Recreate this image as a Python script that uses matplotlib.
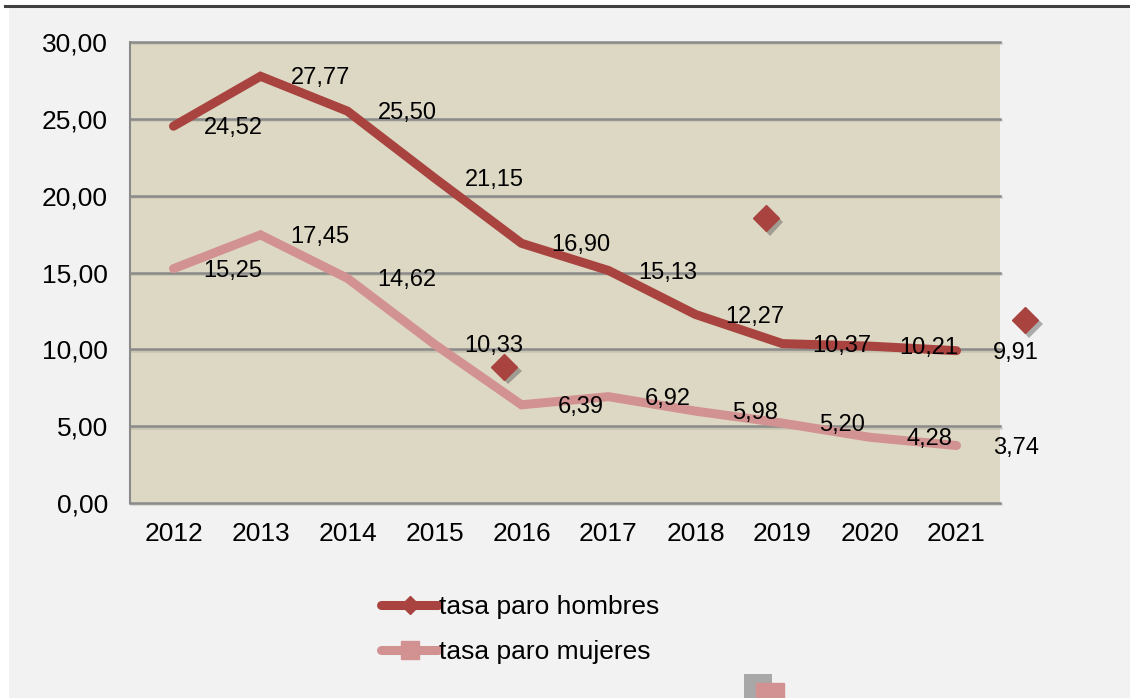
import matplotlib
matplotlib.use('Agg')
import matplotlib.pyplot as plt
import matplotlib.patheffects as pe
from matplotlib.lines import Line2D
import numpy as np

# data
years = ['2012', '2013', '2014', '2015', '2016', '2017', '2018', '2019', '2020', '2021']
tasa_hombres = [24.52, 27.77, 25.50, 21.15, 16.90, 15.13, 12.27, 10.37, 10.21, 9.91]
tasa_mujeres = [15.25, 17.45, 14.62, 10.33, 6.39, 6.92, 5.98, 5.20, 4.28, 3.74]
yticks = [0, 5, 10, 15, 20, 25, 30]

# loose markers left over in the original picture (category index, value)
stray_diamonds_x = [3.80, 6.81, 9.79]
stray_diamonds_y = [8.85, 18.54, 11.90]
stray_square_x = [6.86]
stray_square_y = [-12.6]

col_h = '#a8433f'
col_m = '#d39292'
bg = '#f2f2f2'
plot_bg = '#ddd8c3'
grid_col = '#8a8a8a'

plt.rcParams['font.family'] = ['Liberation Sans', 'DejaVu Sans']

fig = plt.figure(figsize=(11.3, 6.98), dpi=100)
fig.patch.set_facecolor('white')

# grey chart area and the dark rule along the top
fig.add_artist(plt.Rectangle((9 / 1130, 0), 1, 1 - 7 / 698, transform=fig.transFigure,
                             facecolor=bg, edgecolor='none', zorder=0))
fig.add_artist(Line2D([5 / 1130, 1], [1 - 5.5 / 698, 1 - 5.5 / 698], transform=fig.transFigure,
                      color='#404040', lw=2.2, zorder=1))

ax = fig.add_axes([130 / 1130, 1 - 503 / 698, 870 / 1130, 461 / 698])
ax.set_facecolor(plot_bg)

x = np.arange(len(years))
ax.set_xlim(-0.5, len(years) - 0.5)
ax.set_ylim(0, 30)

shadow = [pe.SimpleLineShadow(offset=(1, -1), shadow_color='#b0b0a0', alpha=0.5), pe.Normal()]
for yv in yticks:
    ax.axhline(yv, color=grid_col, lw=1.8, zorder=1, path_effects=shadow, clip_on=False)

for s in ['top', 'right', 'bottom']:
    ax.spines[s].set_visible(False)
ax.spines['left'].set_color(grid_col)
ax.spines['left'].set_linewidth(1.5)

ax.plot(x, tasa_hombres, color=col_h, lw=6.5, solid_capstyle='round', solid_joinstyle='miter', zorder=3)
ax.plot(x, tasa_mujeres, color=col_m, lw=6.5, solid_capstyle='round', solid_joinstyle='miter', zorder=3)

# data labels, shifted right of each point
for xi, v in zip(x, tasa_hombres):
    ax.annotate(f'{v:.2f}'.replace('.', ','), (xi, v), xytext=(43, -1.5), textcoords='offset points',
                ha='center', va='center', fontsize=17, zorder=5, annotation_clip=False)
for xi, v in zip(x, tasa_mujeres):
    ax.annotate(f'{v:.2f}'.replace('.', ','), (xi, v), xytext=(43, -1.5), textcoords='offset points',
                ha='center', va='center', fontsize=17, zorder=5, annotation_clip=False)

mk_shadow = [pe.SimplePatchShadow(offset=(3, -3), shadow_rgbFace='#555555', alpha=0.45), pe.Normal()]
ax.plot(stray_diamonds_x, stray_diamonds_y, ls='none', marker='D', ms=13.5, color=col_h,
        mec=col_h, clip_on=False, zorder=6, path_effects=mk_shadow)
sq_shadow = [pe.SimplePatchShadow(offset=(-9, 6), shadow_rgbFace='#777777', alpha=0.6), pe.Normal()]
ax.plot(stray_square_x, stray_square_y, ls='none', marker='s', ms=20, color=col_m,
        mec=col_m, clip_on=False, zorder=6, path_effects=sq_shadow)

ax.set_xticks(x)
ax.set_xticklabels(years, fontsize=19)
ax.set_yticks(yticks)
ax.set_yticklabels([f'{v:.2f}'.replace('.', ',') for v in yticks], fontsize=19)
ax.tick_params(axis='x', length=0, pad=14)
ax.tick_params(axis='y', length=0, pad=16)

handles = [Line2D([], [], color=col_h, lw=6.5, marker='D', ms=9, solid_capstyle='round'),
           Line2D([], [], color=col_m, lw=6.5, marker='s', ms=13, solid_capstyle='round')]
fig.legend(handles, ['tasa paro hombres', 'tasa paro mujeres'], loc='upper left',
           bbox_to_anchor=(368 / 1130, 1 - 582 / 698), frameon=False, fontsize=19,
           handlelength=2.15, handletextpad=0.05, labelspacing=0.78, borderpad=0)

fig.savefig('out.png', dpi=100, facecolor=fig.get_facecolor())
